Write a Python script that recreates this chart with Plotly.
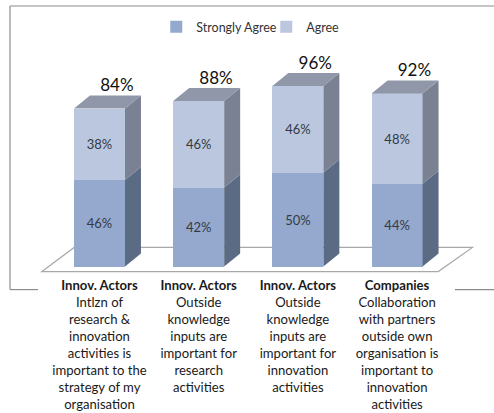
import plotly.graph_objects as go

# Chart values
positions = [0, 1, 2, 3]
strongly_agree = [46, 42, 50, 44]
agree = [38, 46, 46, 48]
totals = [84, 88, 96, 92]
category_labels = [
    "<b>Innov. Actors</b><br>Intlzn of<br>research &<br>innovation<br>activities is<br>important to the<br>strategy of my<br>organisation",
    "<b>Innov. Actors</b><br>Outside<br>knowledge<br>inputs are<br>important for<br>research<br>activities",
    "<b>Innov. Actors</b><br>Outside<br>knowledge<br>inputs are<br>important for<br>innovation<br>activities",
    "<b>Companies</b><br>Collaboration<br>with partners<br>outside own<br>organisation is<br>important to<br>innovation<br>activities",
]

FONT = "Lato"
BAR_WIDTH = 0.514
DEPTH_X = 0.161   # fake 3D depth, in axis units
DEPTH_Y = 6.9


def side_polygon(left_vals, right_vals):
    """Build x/y for side faces, one polygon per bar, split with None"""
    xs, ys = [], []
    for pos, low, high in zip(positions, left_vals, right_vals):
        edge = pos + BAR_WIDTH / 2
        xs += [edge, edge + DEPTH_X, edge + DEPTH_X, edge, edge, None]
        ys += [low, low + DEPTH_Y, high + DEPTH_Y, high, low, None]
    return xs, ys


fig = go.Figure()

# Front faces
fig.add_trace(go.Bar(
    x=positions,
    y=strongly_agree,
    name='Strongly Agree',
    width=BAR_WIDTH,
    marker=dict(color='#95a9cf', line=dict(width=0)),
    text=[f"{v}%" for v in strongly_agree],
    textposition='inside',
    insidetextanchor='middle',
    textangle=0,
    constraintext='none',
    textfont=dict(family=FONT, size=13, color='#333a45')
))
fig.add_trace(go.Bar(
    x=positions,
    y=agree,
    name='Agree',
    width=BAR_WIDTH,
    marker=dict(color='#bac7df', line=dict(width=0)),
    text=[f"{v}%" for v in agree],
    textposition='inside',
    insidetextanchor='middle',
    textangle=0,
    constraintext='none',
    textfont=dict(family=FONT, size=13, color='#333a45')
))

# Right side faces
xs, ys = side_polygon([0] * 4, strongly_agree)
fig.add_trace(go.Scatter(
    x=xs, y=ys, mode='none', fill='toself', fillcolor='#5b6b84',
    showlegend=False, hoverinfo='skip'
))
xs, ys = side_polygon(strongly_agree, totals)
fig.add_trace(go.Scatter(
    x=xs, y=ys, mode='none', fill='toself', fillcolor='#7a8193',
    showlegend=False, hoverinfo='skip'
))

# Top faces
top_x, top_y = [], []
for pos, total in zip(positions, totals):
    left = pos - BAR_WIDTH / 2
    right = pos + BAR_WIDTH / 2
    top_x += [left, left + DEPTH_X, right + DEPTH_X, right, left, None]
    top_y += [total, total + DEPTH_Y, total + DEPTH_Y, total, total, None]
fig.add_trace(go.Scatter(
    x=top_x, y=top_y, mode='none', fill='toself', fillcolor='#9097a9',
    showlegend=False, hoverinfo='skip'
))

# Total labels above each bar
fig.add_trace(go.Scatter(
    x=[p + 0.175 for p in positions],
    y=[t + 11.4 for t in totals],
    mode='text',
    text=[f"{t}%" for t in totals],
    textposition='middle center',
    textfont=dict(family=FONT, size=17, color='#111111'),
    showlegend=False,
    hoverinfo='skip'
))

fig.update_layout(
    width=494,
    height=413,
    barmode='stack',
    margin=dict(l=0, r=0, t=6, b=136.6, autoexpand=False),
    paper_bgcolor='white',
    plot_bgcolor='white',
    font=dict(family=FONT, size=13, color='#222222'),
    showlegend=True,
    legend=dict(
        orientation='h',
        traceorder='normal',
        x=0.539, xanchor='center',
        y=0.922, yanchor='middle',
        font=dict(family=FONT, size=12.5, color='#333333'),
        itemwidth=30,
        entrywidth=65,
        bgcolor='rgba(0,0,0,0)'
    ),
    xaxis=dict(
        automargin=False,
        range=[-1.003, 3.977],
        tickmode='array',
        tickvals=positions,
        ticktext=category_labels,
        ticklen=0,
        ticklabelstandoff=0,
        tickangle=0,
        tickfont=dict(family=FONT, size=13.1, color='#1a1a1a'),
        showgrid=False,
        zeroline=False,
        showline=False
    ),
    yaxis=dict(
        automargin=False,
        range=[-5, 138.5],
        visible=False,
        showgrid=False,
        zeroline=False
    )
)

# Floor of the 3D chart goes under the bars
fig.add_shape(
    type='path', xref='x', yref='y', layer='below',
    path="M -0.58 -2.65 L -0.255 10.2 L 3.76 10.2 L 3.415 -2.65 Z",
    line=dict(color='#a8a8a8', width=1.2)
)

# Outer frame, open under the category labels
frame_color = '#8c8c8c'
for x0, y0, x1, y1 in [(10, 6, 494, 6), (10, 6, 10, 290), (10, 290, 38, 290), (455, 290, 494, 290)]:
    fig.add_shape(
        type='line', xref='paper', yref='paper',
        x0=x0 / 494, x1=x1 / 494,
        y0=(276.4 - y0) / 270.4, y1=(276.4 - y1) / 270.4,
        line=dict(color=frame_color, width=1.2)
    )

# Default page margin would push the chart 8px in
fig.write_html("out.html", config=dict(displayModeBar=False),
               post_script="document.body.style.margin='0';")
